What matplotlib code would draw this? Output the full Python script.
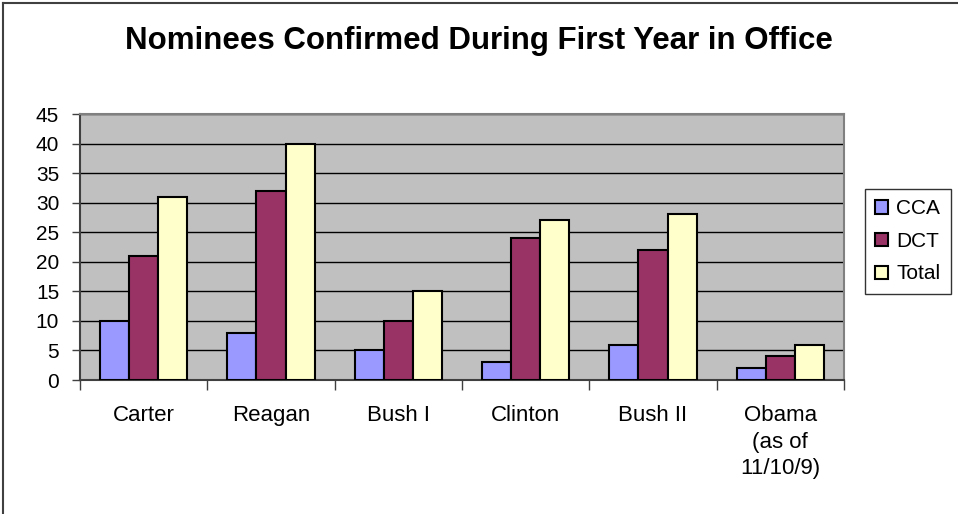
import numpy as np
import matplotlib.pyplot as plt
from matplotlib.lines import Line2D

plt.rcParams['font.family'] = ['Liberation Sans', 'DejaVu Sans']

presidents = ['Carter', 'Reagan', 'Bush I', 'Clinton', 'Bush II', 'Obama\n(as of\n11/10/9)']
cca = [10, 8, 5, 3, 6, 2]
dct = [21, 32, 10, 24, 22, 4]
total = [31, 40, 15, 27, 28, 6]

series = [('CCA', cca, '#9999FF'), ('DCT', dct, '#993366'), ('Total', total, '#FFFFCC')]

fig = plt.figure(figsize=(9.58, 5.14), dpi=100)
ax = fig.add_axes([80 / 958, 1 - 380 / 514, (844 - 80) / 958, (380 - 114) / 514])
ax.set_facecolor('#C0C0C0')

x = np.arange(len(presidents))
w = 0.228
for i, (name, vals, color) in enumerate(series):
    ax.bar(x + (i - 1) * w, vals, w, color=color, edgecolor='black', linewidth=1.5,
           label=name, zorder=3)

ax.set_xlim(-0.5, len(presidents) - 0.5)
ax.set_ylim(0, 45)
ax.set_yticks(range(0, 50, 5))
ax.tick_params(axis='y', labelsize=15, length=6, width=1, direction='out', pad=9, color='#404040')
ax.yaxis.grid(True, color='black', linewidth=1, zorder=1)
ax.set_axisbelow(True)

ax.set_xticks(x)
ax.set_xticklabels(presidents, fontsize=16, linespacing=1.35, va='top')
ax.tick_params(axis='x', length=0, pad=18)
ax.set_xticks(np.arange(-0.5, len(presidents)), minor=True)
ax.tick_params(axis='x', which='minor', length=7, width=1, direction='out', color='#404040')

for side in ['top', 'right']:
    ax.spines[side].set_color('#808080')
    ax.spines[side].set_linewidth(1.5)
for side in ['left', 'bottom']:
    ax.spines[side].set_color('#404040')
    ax.spines[side].set_linewidth(1.5)

leg = ax.legend(loc='upper left', bbox_to_anchor=(865 / 958, 1 - 189 / 514),
                bbox_transform=fig.transFigure, fontsize=15, frameon=True,
                fancybox=False, edgecolor='black', handlelength=0.6, handleheight=0.6,
                handletextpad=0.4, labelspacing=0.65, borderpad=0.5, borderaxespad=0)
leg.get_frame().set_linewidth(1)

fig.text(0.5, 1 - 41 / 514, 'Nominees Confirmed During First Year in Office',
         ha='center', va='center', fontsize=22.5, fontweight='bold')

# chart area border along the top and left
fig.add_artist(Line2D([3 / 958, 1], [1 - 3 / 514, 1 - 3 / 514], color='#404040', linewidth=1.5))
fig.add_artist(Line2D([3 / 958, 3 / 958], [0, 1 - 3 / 514], color='#404040', linewidth=1.5))

fig.savefig('out.png', dpi=100)
